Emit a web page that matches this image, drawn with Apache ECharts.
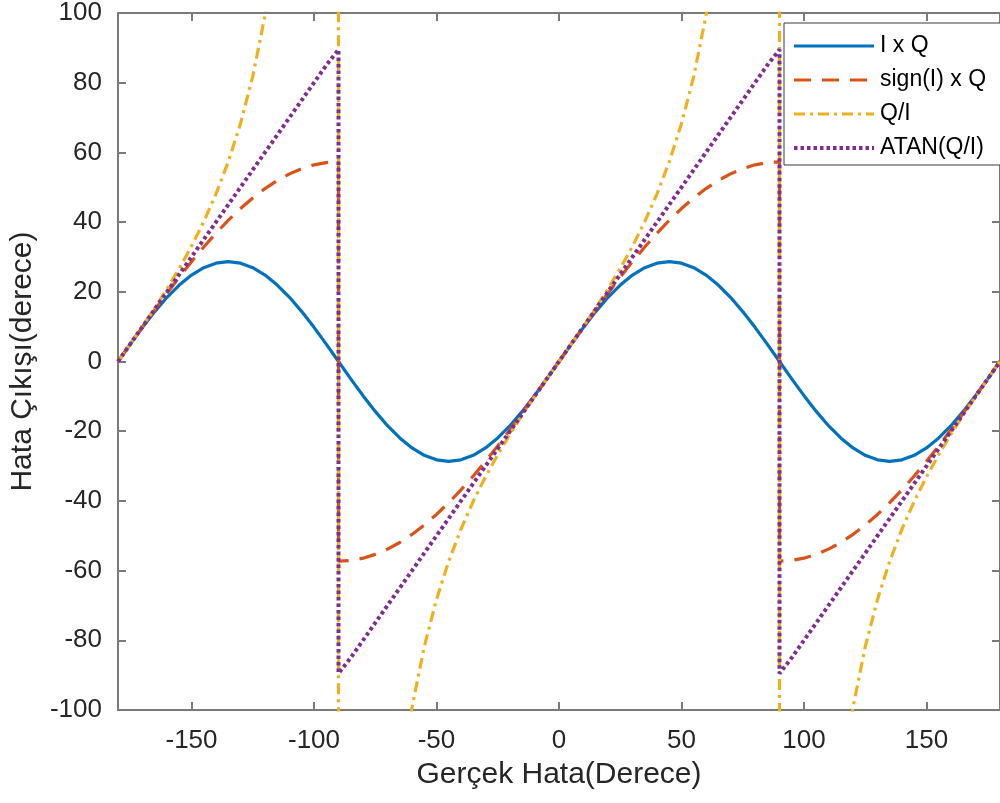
<!DOCTYPE html>
<html>
<head>
<meta charset="utf-8">
<script src="https://cdn.jsdelivr.net/npm/echarts@6/dist/echarts.min.js"></script>
<style>
  html, body { margin: 0; padding: 0; background: #ffffff; }
  #chart { width: 1000px; height: 803px; }
</style>
</head>
<body>
<div id="chart"></div>
<script>
// Error angle (degrees); -90 and 90 appear twice for the jump at the discontinuity
const angles = [-180,-175,-170,-165,-160,-155,-150,-145,-140,-135,-130,-125,-120,-115,-110,-105,-100,-95,-90,
  -90,-85,-80,-75,-70,-65,-60,-55,-50,-45,-40,-35,-30,-25,-20,-15,-10,-5,0,5,10,15,20,25,30,35,40,45,50,55,60,65,70,75,80,85,90,
  90,95,100,105,110,115,120,125,130,135,140,145,150,155,160,165,170,175,180];

const seriesNames = ['I x Q', 'sign(I) x Q', 'Q/I', 'ATAN(Q/I)'];

const iq = [0,4.97,9.80,14.32,18.42,21.95,24.81,26.92,28.21,28.65,28.21,26.92,24.81,21.95,18.42,14.32,9.80,4.97,0,
  0,-4.97,-9.80,-14.32,-18.42,-21.95,-24.81,-26.92,-28.21,-28.65,-28.21,-26.92,-24.81,-21.95,-18.42,-14.32,-9.80,-4.97,
  0,4.97,9.80,14.32,18.42,21.95,24.81,26.92,28.21,28.65,28.21,26.92,24.81,21.95,18.42,14.32,9.80,4.97,0,
  0,-4.97,-9.80,-14.32,-18.42,-21.95,-24.81,-26.92,-28.21,-28.65,-28.21,-26.92,-24.81,-21.95,-18.42,-14.32,-9.80,-4.97,0];

const signIQ = [0,4.99,9.95,14.83,19.60,24.21,28.65,32.86,36.83,40.51,43.89,46.93,49.62,51.93,53.84,55.34,56.43,57.08,57.30,
  -57.30,-57.08,-56.43,-55.34,-53.84,-51.93,-49.62,-46.93,-43.89,-40.51,-36.83,-32.86,-28.65,-24.21,-19.60,-14.83,-9.95,-4.99,
  0,4.99,9.95,14.83,19.60,24.21,28.65,32.86,36.83,40.51,43.89,46.93,49.62,51.93,53.84,55.34,56.43,57.08,57.30,
  -57.30,-57.08,-56.43,-55.34,-53.84,-51.93,-49.62,-46.93,-43.89,-40.51,-36.83,-32.86,-28.65,-24.21,-19.60,-14.83,-9.95,-4.99,0];

const qOverI = [0,5.01,10.10,15.35,20.85,26.72,33.08,40.12,48.08,57.30,68.28,81.83,99.24,122.87,157.42,213.83,324.94,654.90,5000,
  -5000,-654.90,-324.94,-213.83,-157.42,-122.87,-99.24,-81.83,-68.28,-57.30,-48.08,-40.12,-33.08,-26.72,-20.85,-15.35,-10.10,-5.01,
  0,5.01,10.10,15.35,20.85,26.72,33.08,40.12,48.08,57.30,68.28,81.83,99.24,122.87,157.42,213.83,324.94,654.90,5000,
  -5000,-654.90,-324.94,-213.83,-157.42,-122.87,-99.24,-81.83,-68.28,-57.30,-48.08,-40.12,-33.08,-26.72,-20.85,-15.35,-10.10,-5.01,0];

const atanQI = [0,5,10,15,20,25,30,35,40,45,50,55,60,65,70,75,80,85,89.5,
  -89.5,-85,-80,-75,-70,-65,-60,-55,-50,-45,-40,-35,-30,-25,-20,-15,-10,-5,
  0,5,10,15,20,25,30,35,40,45,50,55,60,65,70,75,80,85,89.5,
  -89.5,-85,-80,-75,-70,-65,-60,-55,-50,-45,-40,-35,-30,-25,-20,-15,-10,-5,0];

const xTicks = [-150,-100,-50,0,50,100,150];

const FONT = "'Liberation Sans', Arial, Helvetica, sans-serif";
const AXIS_COLOR = '#7a7a7a';
const TEXT_COLOR = '#262626';

const pairs = vals => angles.map((a, i) => [a, vals[i]]);

const chart = echarts.init(document.getElementById('chart'), null, { renderer: 'canvas' });

const axisLineCommon = { show: true, onZero: false, lineStyle: { color: AXIS_COLOR, width: 2 } };
const tickCommon = { show: true, inside: true, length: 8, lineStyle: { color: AXIS_COLOR, width: 2 } };

chart.setOption({
  animation: false,
  backgroundColor: '#ffffff',
  grid: { left: 117, right: 0, top: 11, bottom: 93, containLabel: false },
  xAxis: [
    {
      type: 'value', position: 'bottom', min: -180, max: 180,
      axisLine: axisLineCommon,
      axisTick: Object.assign({}, tickCommon, { customValues: xTicks }),
      axisLabel: { customValues: xTicks, fontSize: 26, color: TEXT_COLOR, fontFamily: FONT, margin: 18 },
      splitLine: { show: false },
      name: 'Gerçek Hata(Derece)', nameLocation: 'middle', nameGap: 50,
      nameTextStyle: { fontSize: 30, color: TEXT_COLOR, fontFamily: FONT }
    },
    {
      type: 'value', position: 'top', min: -180, max: 180,
      axisLine: axisLineCommon,
      axisTick: Object.assign({}, tickCommon, { customValues: xTicks }),
      axisLabel: { show: false },
      splitLine: { show: false }
    }
  ],
  yAxis: [
    {
      type: 'value', position: 'left', min: -100, max: 100, interval: 20,
      axisLine: axisLineCommon,
      axisTick: tickCommon,
      axisLabel: { fontSize: 26, color: TEXT_COLOR, fontFamily: FONT, margin: 16 },
      splitLine: { show: false },
      name: 'Hata Çıkışı(derece)', nameLocation: 'middle', nameGap: 80, nameRotate: 90,
      nameTextStyle: { fontSize: 30, color: TEXT_COLOR, fontFamily: FONT }
    },
    {
      type: 'value', position: 'right', min: -100, max: 100, interval: 20,
      axisLine: axisLineCommon,
      axisTick: tickCommon,
      axisLabel: { show: false },
      splitLine: { show: false }
    }
  ],
  legend: {
    orient: 'vertical', left: 784, top: 23,
    data: seriesNames,
    itemWidth: 80, itemHeight: 14, itemGap: 8,
    padding: [10, 25, 4, 8],
    backgroundColor: '#ffffff', borderColor: '#3a3a3a', borderWidth: 1, borderRadius: 0,
    lineStyle: { width: 'inherit' },
    itemStyle: { opacity: 0, borderWidth: 0 },
    textStyle: { fontSize: 23, lineHeight: 26, color: '#000000', fontFamily: FONT, padding: [0, 0, 0, 1] }
  },
  series: [
    {
      name: seriesNames[0], type: 'line', data: pairs(iq), symbol: 'none', clip: true, z: 2,
      lineStyle: { color: '#0072BD', width: 3.2, type: 'solid' }, itemStyle: { color: '#0072BD' }
    },
    {
      name: seriesNames[1], type: 'line', data: pairs(signIQ), symbol: 'none', clip: true, z: 2,
      lineStyle: { color: '#D95319', width: 3.2, type: [17, 11] }, itemStyle: { color: '#D95319' }
    },
    {
      name: seriesNames[2], type: 'line', data: pairs(qOverI), symbol: 'none', clip: true, z: 2,
      lineStyle: { color: '#EDB120', width: 3.2, type: [11, 5, 3, 5] }, itemStyle: { color: '#EDB120' }
    },
    {
      name: seriesNames[3], type: 'line', data: pairs(atanQI), symbol: 'none', clip: true, z: 2,
      lineStyle: { color: '#7E2F8E', width: 4, type: [3.5, 3] }, itemStyle: { color: '#7E2F8E' }
    }
  ]
});
</script>
</body>
</html>
